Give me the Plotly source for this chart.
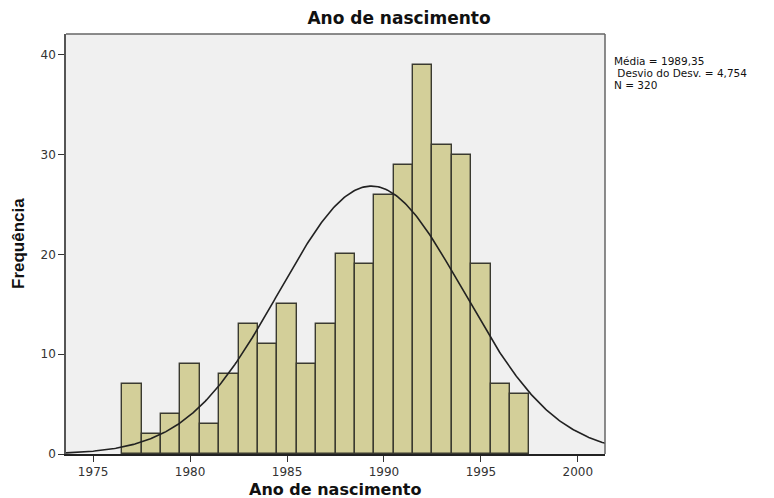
import numpy as np
import plotly.graph_objects as go

# Histogram bins (lower edges, width 1) and counts
bin_starts = [1976.5, 1977.5, 1978.5, 1979.5, 1980.5, 1981.5, 1982.5, 1983.5, 1984.5,
              1985.5, 1986.5, 1987.5, 1988.5, 1989.5, 1990.5, 1991.5, 1992.5, 1993.5,
              1994.5, 1995.5, 1996.5]
counts = [7, 2, 4, 9, 3, 8, 13, 11, 15, 9, 13, 20, 19, 26, 29, 39, 31, 30, 19, 7, 6]
bin_width = 1.0

mean_val = 1989.35
sd_val = 4.754
n_val = 320

stats_lines = ["Média = 1989,35", " Desvio do Desv. = 4,754", "N = 320"]
x_ticks = [1975, 1980, 1985, 1990, 1995, 2000]
y_ticks = [0, 10, 20, 30, 40]
x_range = [1973.6, 2001.4]
y_range = [0, 42.1]

centers = [s + bin_width / 2 for s in bin_starts]

# Fitted normal curve scaled to counts
xc = np.linspace(x_range[0], x_range[1], 400)
yc = n_val * bin_width / (sd_val * np.sqrt(2 * np.pi)) * np.exp(-0.5 * ((xc - mean_val) / sd_val) ** 2)

fig = go.Figure()
fig.add_trace(go.Bar(
    x=centers, y=counts, width=bin_width,
    marker=dict(color="#d3cf99", line=dict(color="#3a3a30", width=1.4)),
    hoverinfo="x+y", showlegend=False,
))
fig.add_trace(go.Scatter(
    x=xc, y=yc, mode="lines",
    line=dict(color="#222222", width=1.6),
    hoverinfo="skip", showlegend=False,
))

tick_font = dict(family="DejaVu Sans, Verdana, sans-serif", size=12, color="#333333")

PLOT_L, PLOT_R, PLOT_T, PLOT_B = 66, 605, 34, 454
W, H = 774, 498
plot_w = PLOT_R - PLOT_L
plot_h = PLOT_B - PLOT_T

fig.update_layout(
    width=W, height=H,
    margin=dict(l=PLOT_L, r=W - PLOT_R, t=PLOT_T, b=H - PLOT_B, autoexpand=False),
    paper_bgcolor="white",
    plot_bgcolor="#f0f0f0",
    bargap=0,
    title=dict(
        text="<b>Ano de nascimento</b>",
        font=dict(family="DejaVu Sans, Verdana, sans-serif", size=17, color="#111111"),
        x=399 / W, xanchor="center", y=1 - 18 / H, yanchor="middle",
    ),
    xaxis=dict(
        range=x_range, tickvals=x_ticks, ticktext=[str(v) for v in x_ticks],
        ticks="outside", ticklen=6, tickwidth=1.3, tickcolor="#333333",
        tickfont=tick_font, showgrid=False, zeroline=False, automargin=False,
        showline=True, linecolor="#222222", linewidth=1.5, mirror=False,
    ),
    yaxis=dict(
        range=y_range, tickvals=y_ticks, ticktext=[str(v) for v in y_ticks],
        ticks="outside", ticklen=6, tickwidth=1.3, tickcolor="#333333",
        tickfont=tick_font, showgrid=False, zeroline=False, automargin=False,
        showline=True, linecolor="#555555", linewidth=1.5, mirror=False,
    ),
)

# Axis titles
fig.add_annotation(
    text="<b>Ano de nascimento</b>", xref="paper", yref="paper",
    x=(335 - PLOT_L) / plot_w, y=-(490 - PLOT_B) / plot_h,
    xanchor="center", yanchor="middle", showarrow=False,
    font=dict(family="DejaVu Sans, Verdana, sans-serif", size=16, color="#111111"),
)
fig.add_annotation(
    text="<b>Frequência</b>", xref="paper", yref="paper",
    x=-(PLOT_L - 18) / plot_w, y=(PLOT_B - 244) / plot_h, textangle=-90,
    xanchor="center", yanchor="middle", showarrow=False,
    font=dict(family="Arial, Liberation Sans, sans-serif", size=17, color="#111111"),
)

# Top and right frame of the plot area
fig.add_shape(type="line", xref="paper", yref="paper", x0=0, x1=1, y0=1, y1=1,
              line=dict(color="#666666", width=1.5))
fig.add_shape(type="line", xref="paper", yref="paper", x0=1, x1=1, y0=0, y1=1,
              line=dict(color="#666666", width=1.5))

# Summary statistics beside the plot
for i, line in enumerate(stats_lines):
    fig.add_annotation(
        text=line.replace(" ", "&nbsp;", 1) if line.startswith(" ") else line,
        xref="paper", yref="paper", x=(612 - PLOT_L) / plot_w,
        y=(PLOT_B - (61 + 12 * i)) / plot_h,
        xanchor="left", yanchor="middle", showarrow=False, align="left",
        font=dict(family="DejaVu Sans, Verdana, sans-serif", size=10.5, color="#111111"),
    )

fig.write_html("out.html")
